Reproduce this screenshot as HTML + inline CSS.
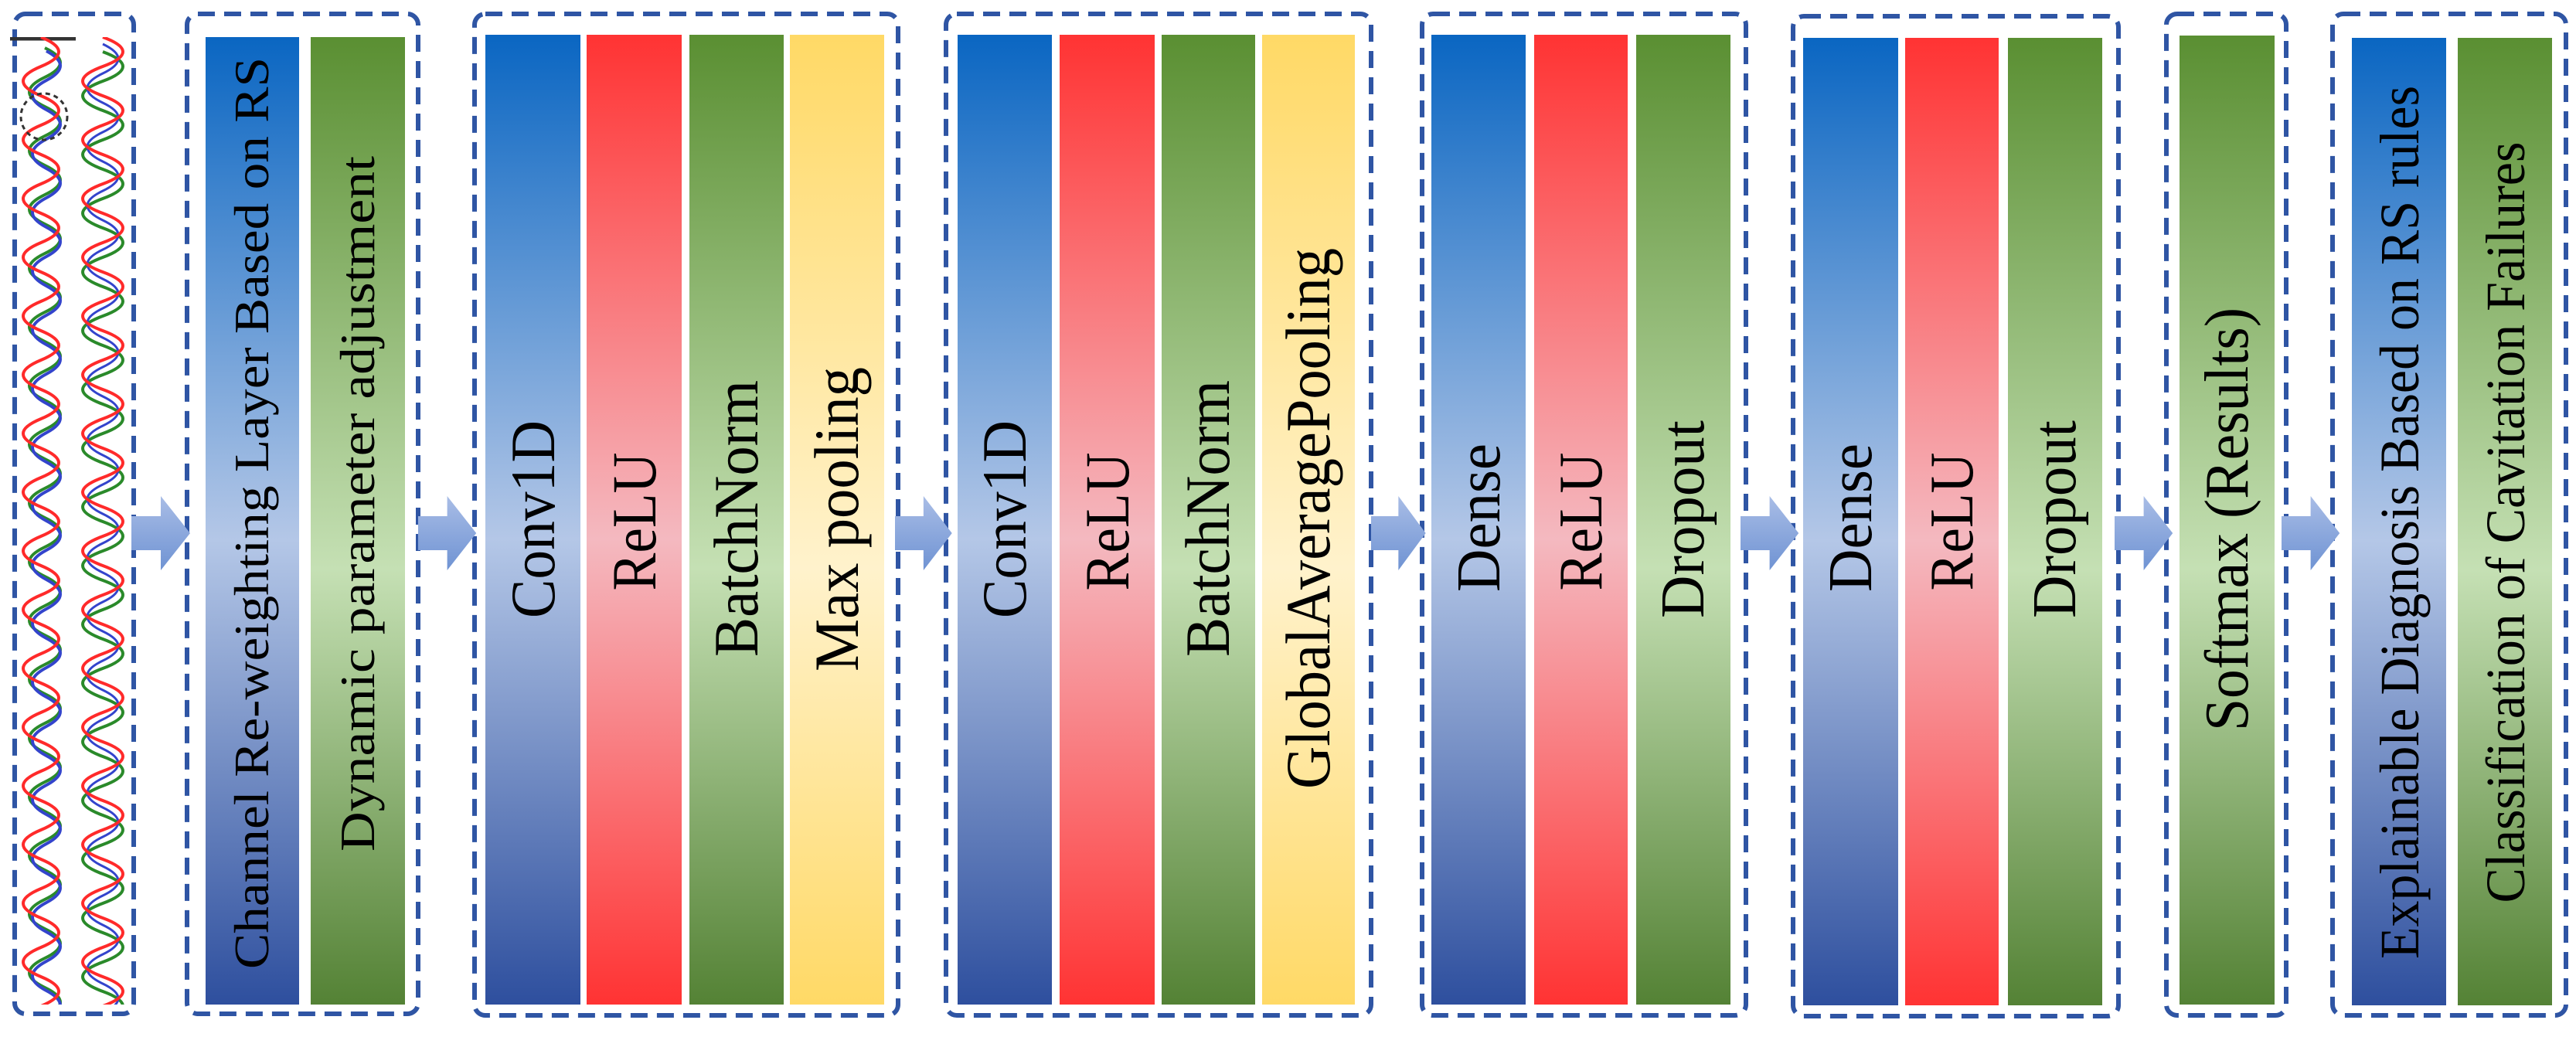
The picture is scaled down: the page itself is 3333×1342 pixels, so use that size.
<!DOCTYPE html>
<html><head><meta charset="utf-8"><style>html,body{margin:0;padding:0;background:#fff}svg{display:block}.t text{font-family:"Liberation Serif","Times New Roman",Times,"DejaVu Serif",serif !important}</style></head><body>
<svg width="3333" height="1342" viewBox="0 0 3333 1342" xmlns="http://www.w3.org/2000/svg">
<defs>
<linearGradient id="gb" x1="0" y1="0" x2="0" y2="1"><stop offset="0" stop-color="#0a66c2"/><stop offset="0.52" stop-color="#b4c7e7"/><stop offset="1" stop-color="#2e4f9e"/></linearGradient>
<linearGradient id="gr" x1="0" y1="0" x2="0" y2="1"><stop offset="0" stop-color="#ff3333"/><stop offset="0.52" stop-color="#f4b9c0"/><stop offset="1" stop-color="#ff3333"/></linearGradient>
<linearGradient id="gg" x1="0" y1="0" x2="0" y2="1"><stop offset="0" stop-color="#5a8f32"/><stop offset="0.55" stop-color="#c5e0b4"/><stop offset="1" stop-color="#548235"/></linearGradient>
<linearGradient id="gy" x1="0" y1="0" x2="0" y2="1"><stop offset="0" stop-color="#ffd966"/><stop offset="0.55" stop-color="#fff2cc"/><stop offset="1" stop-color="#ffd966"/></linearGradient>
<linearGradient id="ga" x1="0" y1="0" x2="0" y2="1"><stop offset="0" stop-color="#a9bde6"/><stop offset="1" stop-color="#6f93d3"/></linearGradient>
<clipPath id="wc"><rect x="13" y="48" width="160" height="1252"/></clipPath>
<g id="arrow"><path d="M0 -22 H38 V-48 L76 0 L38 48 V22 H0 Z" fill="url(#ga)"/></g>
</defs>
<g fill="none" stroke="#2f55a4" stroke-width="6" stroke-dasharray="22 12">
<rect x="19" y="18" width="154" height="1294" rx="14"/>
<rect x="242" y="18" width="299" height="1294" rx="14"/>
<rect x="614" y="18" width="548" height="1296" rx="14"/>
<rect x="1224" y="18" width="550" height="1296" rx="14"/>
<rect x="1840" y="18" width="419" height="1296" rx="14"/>
<rect x="2320" y="21" width="421" height="1294" rx="14"/>
<rect x="2803" y="18" width="155" height="1296" rx="14"/>
<rect x="3018" y="18" width="302" height="1296" rx="14"/>
</g>
<g clip-path="url(#wc)" fill="none" stroke-width="4">
<line x1="13" y1="50" x2="98" y2="50" stroke="#333" stroke-width="5"/>
<path stroke="#2a8a2a" d="M58 62 q40 19 0 38 t0 38 t0 38 t0 38 t0 38 t0 38 t0 38 t0 38 t0 38 t0 38 t0 38 t0 38 t0 38 t0 38 t0 38 t0 38 t0 38 t0 38 t0 38 t0 38 t0 38 t0 38 t0 38 t0 38 t0 38 t0 38 t0 38 t0 38 t0 38 t0 38 t0 38 t0 38 t0 38 t0 38"/>
<path stroke="#3344cc" d="M60 66 q36 19 0 38 t0 38 t0 38 t0 38 t0 38 t0 38 t0 38 t0 38 t0 38 t0 38 t0 38 t0 38 t0 38 t0 38 t0 38 t0 38 t0 38 t0 38 t0 38 t0 38 t0 38 t0 38 t0 38 t0 38 t0 38 t0 38 t0 38 t0 38 t0 38 t0 38 t0 38 t0 38 t0 38 t0 38"/>
<path stroke="#ff2a2a" d="M53 48 q46 19 0 38 t0 38 t0 38 t0 38 t0 38 t0 38 t0 38 t0 38 t0 38 t0 38 t0 38 t0 38 t0 38 t0 38 t0 38 t0 38 t0 38 t0 38 t0 38 t0 38 t0 38 t0 38 t0 38 t0 38 t0 38 t0 38 t0 38 t0 38 t0 38 t0 38 t0 38 t0 38 t0 38 t0 38"/>
<path stroke="#2a8a2a" d="M133 67 q52 19 0 38 t0 38 t0 38 t0 38 t0 38 t0 38 t0 38 t0 38 t0 38 t0 38 t0 38 t0 38 t0 38 t0 38 t0 38 t0 38 t0 38 t0 38 t0 38 t0 38 t0 38 t0 38 t0 38 t0 38 t0 38 t0 38 t0 38 t0 38 t0 38 t0 38 t0 38 t0 38 t0 38 t0 38"/>
<path stroke="#3344cc" stroke-width="3" d="M133 57 q40 19 0 38 t0 38 t0 38 t0 38 t0 38 t0 38 t0 38 t0 38 t0 38 t0 38 t0 38 t0 38 t0 38 t0 38 t0 38 t0 38 t0 38 t0 38 t0 38 t0 38 t0 38 t0 38 t0 38 t0 38 t0 38 t0 38 t0 38 t0 38 t0 38 t0 38 t0 38 t0 38 t0 38 t0 38"/>
<path stroke="#ff2a2a" d="M133 48 q52 19 0 38 t0 38 t0 38 t0 38 t0 38 t0 38 t0 38 t0 38 t0 38 t0 38 t0 38 t0 38 t0 38 t0 38 t0 38 t0 38 t0 38 t0 38 t0 38 t0 38 t0 38 t0 38 t0 38 t0 38 t0 38 t0 38 t0 38 t0 38 t0 38 t0 38 t0 38 t0 38 t0 38 t0 38"/>
<circle cx="57" cy="151" r="30" stroke="#333" stroke-width="3" stroke-dasharray="6 5"/>
</g>
<rect x="266" y="48" width="121" height="1252" fill="url(#gb)"/>
<rect x="402" y="48" width="122" height="1252" fill="url(#gg)"/>
<rect x="628" y="45" width="123" height="1255" fill="url(#gb)"/>
<rect x="759" y="45" width="123" height="1255" fill="url(#gr)"/>
<rect x="892" y="45" width="122" height="1255" fill="url(#gg)"/>
<rect x="1022" y="45" width="122" height="1255" fill="url(#gy)"/>
<rect x="1239" y="45" width="122" height="1255" fill="url(#gb)"/>
<rect x="1371" y="45" width="123" height="1255" fill="url(#gr)"/>
<rect x="1503" y="45" width="121" height="1255" fill="url(#gg)"/>
<rect x="1633" y="45" width="120" height="1255" fill="url(#gy)"/>
<rect x="1852" y="45" width="122" height="1255" fill="url(#gb)"/>
<rect x="1985" y="45" width="121" height="1255" fill="url(#gr)"/>
<rect x="2117" y="45" width="122" height="1255" fill="url(#gg)"/>
<rect x="2333" y="49" width="123" height="1252" fill="url(#gb)"/>
<rect x="2465" y="49" width="121" height="1252" fill="url(#gr)"/>
<rect x="2598" y="49" width="122" height="1252" fill="url(#gg)"/>
<rect x="2820" y="46" width="123" height="1254" fill="url(#gg)"/>
<rect x="3043" y="49" width="122" height="1252" fill="url(#gb)"/>
<rect x="3180" y="49" width="122" height="1252" fill="url(#gg)"/>
<use href="#arrow" transform="translate(170,690)"/>
<use href="#arrow" transform="translate(541,690) scale(0.99,1)"/>
<use href="#arrow" transform="translate(1158,690) scale(0.97,1)"/>
<use href="#arrow" transform="translate(1774,690) scale(0.93,1)"/>
<use href="#arrow" transform="translate(2252,690) scale(0.99,1)"/>
<use href="#arrow" transform="translate(2736,690) scale(0.99,1)"/>
<use href="#arrow" transform="translate(2952,690) scale(0.99,1)"/>
<g class="t" fill="#000" text-anchor="middle" font-family="Liberation Serif, Times New Roman, serif">
<text transform="translate(347,664) rotate(-90)" font-size="64" textLength="1180" lengthAdjust="spacingAndGlyphs">Channel Re-weighting Layer Based on RS</text>
<text transform="translate(484,652) rotate(-90)" font-size="64" textLength="900" lengthAdjust="spacingAndGlyphs">Dynamic parameter adjustment</text>
<text transform="translate(717,672) rotate(-90)" font-size="82" textLength="256" lengthAdjust="spacingAndGlyphs">Conv1D</text>
<text transform="translate(848,675) rotate(-90)" font-size="82" textLength="179" lengthAdjust="spacingAndGlyphs">ReLU</text>
<text transform="translate(980,671) rotate(-90)" font-size="82" textLength="358" lengthAdjust="spacingAndGlyphs">BatchNorm</text>
<text transform="translate(1110,672) rotate(-90)" font-size="82" textLength="394" lengthAdjust="spacingAndGlyphs">Max pooling</text>
<text transform="translate(1327,672) rotate(-90)" font-size="82" textLength="256" lengthAdjust="spacingAndGlyphs">Conv1D</text>
<text transform="translate(1460,675) rotate(-90)" font-size="82" textLength="179" lengthAdjust="spacingAndGlyphs">ReLU</text>
<text transform="translate(1590,671) rotate(-90)" font-size="82" textLength="358" lengthAdjust="spacingAndGlyphs">BatchNorm</text>
<text transform="translate(1720,671) rotate(-90)" font-size="82" textLength="700" lengthAdjust="spacingAndGlyphs">GlobalAveragePooling</text>
<text transform="translate(1940,670) rotate(-90)" font-size="80" textLength="192" lengthAdjust="spacingAndGlyphs">Dense</text>
<text transform="translate(2072,675) rotate(-90)" font-size="80" textLength="179" lengthAdjust="spacingAndGlyphs">ReLU</text>
<text transform="translate(2204,672) rotate(-90)" font-size="80" textLength="256" lengthAdjust="spacingAndGlyphs">Dropout</text>
<text transform="translate(2421,670) rotate(-90)" font-size="80" textLength="192" lengthAdjust="spacingAndGlyphs">Dense</text>
<text transform="translate(2552,675) rotate(-90)" font-size="80" textLength="179" lengthAdjust="spacingAndGlyphs">ReLU</text>
<text transform="translate(2685,672) rotate(-90)" font-size="80" textLength="256" lengthAdjust="spacingAndGlyphs">Dropout</text>
<text transform="translate(2908,672) rotate(-90)" font-size="80" textLength="548" lengthAdjust="spacingAndGlyphs">Softmax (Results)</text>
<text transform="translate(3129,676) rotate(-90)" font-size="72" textLength="1130" lengthAdjust="spacingAndGlyphs">Explainable Diagnosis Based on RS rules</text>
<text transform="translate(3266,676) rotate(-90)" font-size="72" textLength="985" lengthAdjust="spacingAndGlyphs">Classification of Cavitation Failures</text>
</g>
</svg>
</body></html>
